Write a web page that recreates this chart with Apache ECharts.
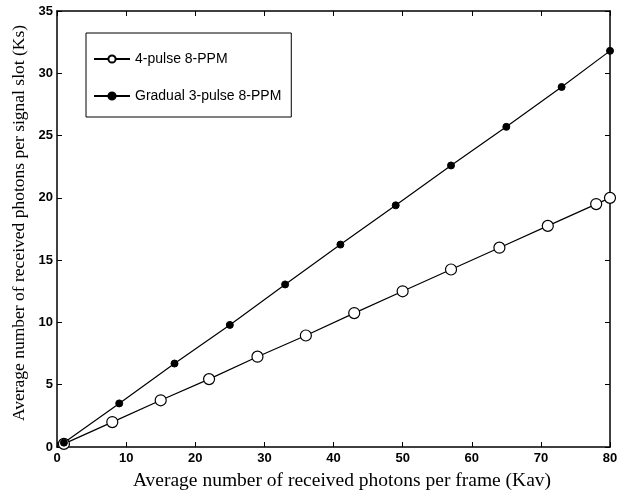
<!DOCTYPE html>
<html><head><meta charset="utf-8">
<script src="https://cdn.jsdelivr.net/npm/echarts@6/dist/echarts.min.js"></script>
<style>html,body{margin:0;padding:0;background:#fff}#c{width:618px;height:493px}</style>
</head><body><div id="c"></div>
<script>
var seriesNames = ['4-pulse 8-PPM', 'Gradual 3-pulse 8-PPM'];
var xOpen = [1, 8, 15, 22, 29, 36, 43, 50, 57, 64, 71, 78, 80];
var yOpen = [0.25, 2.0, 3.75, 5.45, 7.25, 8.95, 10.75, 12.5, 14.25, 16.0, 17.75, 19.5, 20.0];
var xFilled = [1, 9, 17, 25, 33, 41, 49, 57, 65, 73, 80];
var yFilled = [0.35, 3.5, 6.7, 9.8, 13.05, 16.25, 19.4, 22.6, 25.7, 28.9, 31.8];
var xTitle = 'Average number of received photons per frame (Kav)';
var yTitle = 'Average number of received photons per signal slot (Ks)';

function pairs(xs, ys){ return xs.map(function(x,i){return [x, ys[i]];}); }

var chart = echarts.init(document.getElementById('c'), null, {renderer:'canvas'});
var tickFont = {fontFamily:'Liberation Sans', fontWeight:'bold', fontSize:13, color:'#000'};
function axisBase(extra){
  return Object.assign({
    axisLine:{show:true, onZero:false, lineStyle:{color:'#000', width:1.5}},
    axisTick:{show:true, inside:true, length:5, lineStyle:{color:'#000', width:1}},
    splitLine:{show:false}
  }, extra);
}
chart.setOption({
  animation:false,
  backgroundColor:'#fff',
  grid:{left:57, right:8, top:11, bottom:46, containLabel:false, outerBoundsMode:'none'},
  legend:{
    orient:'vertical', left:86, top:33,
    padding:[19, 10, 14, 7], itemGap:23,
    borderColor:'#000', borderWidth:1, backgroundColor:'#fff',
    itemWidth:36, itemHeight:9,
    textStyle:{fontFamily:'Liberation Sans', fontSize:14, color:'#000'},
    data: seriesNames
  },
  xAxis:[axisBase({
    type:'value', min:0, max:80, interval:10, position:'bottom',
    axisLabel:Object.assign({margin:5}, tickFont),
    name:xTitle, nameLocation:'middle', nameGap:24, nameMoveOverlap:false,
    nameTextStyle:{fontFamily:'Liberation Serif', fontSize:19.5, color:'#000', padding:[0,0,0,17]}
  }), axisBase({
    type:'value', min:0, max:80, interval:10, position:'top',
    axisLabel:{show:false}
  })],
  yAxis:[axisBase({
    type:'value', min:0, max:35, interval:5, position:'left',
    axisLabel:Object.assign({margin:4}, tickFont),
    name:yTitle, nameLocation:'middle', nameGap:29, nameMoveOverlap:false,
    nameTextStyle:{fontFamily:'Liberation Serif', fontSize:17.5, color:'#000', padding:[0,0,0,12]}
  }), axisBase({
    type:'value', min:0, max:35, interval:5, position:'right',
    axisLabel:{show:false}
  })],
  series:[{
    name:seriesNames[0], type:'line', data:pairs(xOpen, yOpen),
    symbol:'circle', symbolSize:11, showAllSymbol:true,
    lineStyle:{color:'#000', width:1.2},
    itemStyle:{color:'#fff', borderColor:'#000', borderWidth:1.2}
  },{
    name:seriesNames[1], type:'line', data:pairs(xFilled, yFilled),
    symbol:'circle', symbolSize:7, showAllSymbol:true,
    lineStyle:{color:'#000', width:1.2},
    itemStyle:{color:'#000', borderColor:'#000', borderWidth:1}
  }]
});
</script></body></html>
